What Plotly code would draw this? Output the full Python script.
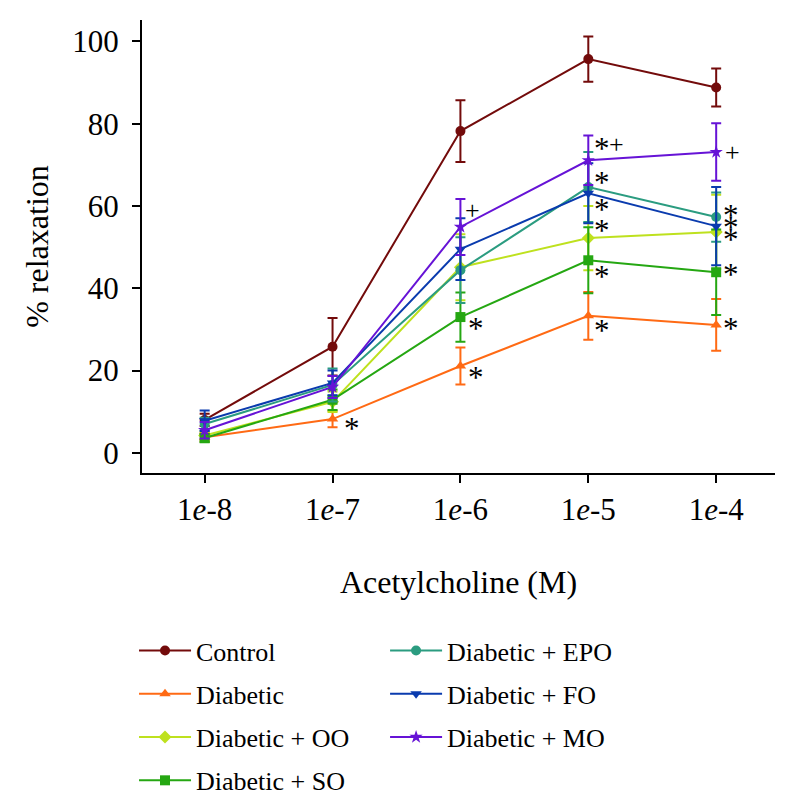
import plotly.graph_objects as go

concentrations = ["1<i>e</i>-8", "1<i>e</i>-7", "1<i>e</i>-6", "1<i>e</i>-5", "1<i>e</i>-4"]
x_idx = [0, 1, 2, 3, 4]

series_names = ["Control", "Diabetic", "Diabetic + OO", "Diabetic + SO",
                "Diabetic + EPO", "Diabetic + FO", "Diabetic + MO"]

control = [8.0, 25.8, 78.2, 95.7, 88.8]
control_err = [1.5, 7.0, 7.5, 5.5, 4.6]
diabetic = [3.8, 8.2, 21.1, 33.3, 31.1]
diabetic_err = [1.0, 2.0, 4.5, 5.8, 6.3]
oo = [4.2, 12.4, 45.1, 52.2, 53.7]
oo_err = [1.0, 2.5, 8.0, 7.8, 9.0]
so = [3.6, 12.9, 33.0, 46.8, 43.9]
so_err = [1.0, 2.5, 6.0, 8.0, 10.4]
epo = [7.0, 16.5, 44.4, 64.6, 57.3]
epo_err = [1.5, 4.0, 8.0, 8.5, 6.0]
fo = [7.8, 17.0, 49.5, 63.1, 55.1]
fo_err = [2.5, 3.0, 7.5, 7.3, 9.5]
mo = [5.5, 16.0, 54.9, 71.1, 73.1]
mo_err = [2.0, 2.7, 6.8, 6.0, 7.0]

values = [control, diabetic, oo, so, epo, fo, mo]
errors = [control_err, diabetic_err, oo_err, so_err, epo_err, fo_err, mo_err]
colors = ["#730B0B", "#FF6A14", "#BEE11E", "#25A712", "#2B9C80", "#0A3BAE", "#6613D6"]
symbols = ["circle", "triangle-up", "diamond", "square", "circle", "triangle-down", "star"]
legend_ids = ["legend", "legend", "legend", "legend", "legend2", "legend2", "legend2"]

# significance marks: (concentration index, y value, text)
sig_marks = [
    (1, 6.8, "*"),
    (2, 58.8, "+"), (2, 31.1, "*"), (2, 19.4, "*"),
    (3, 74.9, "*"), (3, 74.9, "+"), (3, 66.7, "*"), (3, 60.2, "*"), (3, 55.1, "*"),
    (3, 43.9, "*"), (3, 30.8, "*"),
    (4, 73.1, "+"), (4, 58.7, "*"), (4, 55.8, "*"), (4, 52.9, "*"), (4, 44.2, "*"), (4, 31.3, "*"),
]
# horizontal pixel offsets of the marks' centres from the point column
mark_dx = {(1, "*"): 19, (2, "+"): 12, (2, "*"): 16, (3, "*"): 14, (3, "+"): 28,
           (4, "*"): 15, (4, "+"): 16}

FONT = "Liberation Serif"
fig = go.Figure()
for name, v, e, c, s, lg in zip(series_names, values, errors, colors, symbols, legend_ids):
    fig.add_trace(go.Scatter(
        x=x_idx, y=v, name=name, mode="lines+markers",
        line=dict(color=c, width=2),
        marker=dict(color=c, symbol=s, size=10),
        error_y=dict(type="data", array=e, visible=True, color=c, thickness=2, width=5),
        legend=lg, legendgroup=name,
    ))

for xi, yv, t in sig_marks:
    is_star = t == "*"
    fig.add_annotation(x=xi, y=yv, text=t, showarrow=False, xref="x", yref="y",
                       xanchor="center", xshift=mark_dx[(xi, t)],
                       yshift=-4 if is_star else 0,
                       font=dict(family=FONT, size=31 if is_star else 26, color="black"))

fig.update_layout(
    width=796, height=809,
    margin=dict(l=134, r=29, t=12, b=344, autoexpand=False),
    plot_bgcolor="white", paper_bgcolor="white",
    font=dict(family=FONT, size=27, color="black"),
    showlegend=True,
    legend=dict(x=-0.0126, y=-0.34, xanchor="left", yanchor="top", itemwidth=52,
                font=dict(family=FONT, size=26), tracegroupgap=6.5, bgcolor="rgba(0,0,0,0)"),
    legend2=dict(x=0.384, y=-0.34, xanchor="left", yanchor="top", itemwidth=52,
                 font=dict(family=FONT, size=26), tracegroupgap=6.5, bgcolor="rgba(0,0,0,0)"),
)
fig.update_xaxes(
    range=[-0.49, 4.46], tickmode="array", tickvals=x_idx, ticktext=concentrations,
    showline=True, linecolor="black", linewidth=2, ticks="outside", ticklen=8, tickwidth=1.5,
    tickcolor="black", showgrid=False, zeroline=False, ticklabelstandoff=0,
    tickfont=dict(family=FONT, size=31),
    title=dict(text="Acetylcholine (M)", font=dict(family=FONT, size=32), standoff=44),
)
fig.update_yaxes(
    range=[-4.9, 105.2], tickvals=[0, 20, 40, 60, 80, 100],
    showline=True, linecolor="black", linewidth=2, ticks="outside", ticklen=8, tickwidth=1.5,
    tickcolor="black", showgrid=False, zeroline=False, ticklabelstandoff=7,
    tickfont=dict(family=FONT, size=31),
    title=dict(text="% relaxation", font=dict(family=FONT, size=32), standoff=14),
)

fig.write_html("out.html")
